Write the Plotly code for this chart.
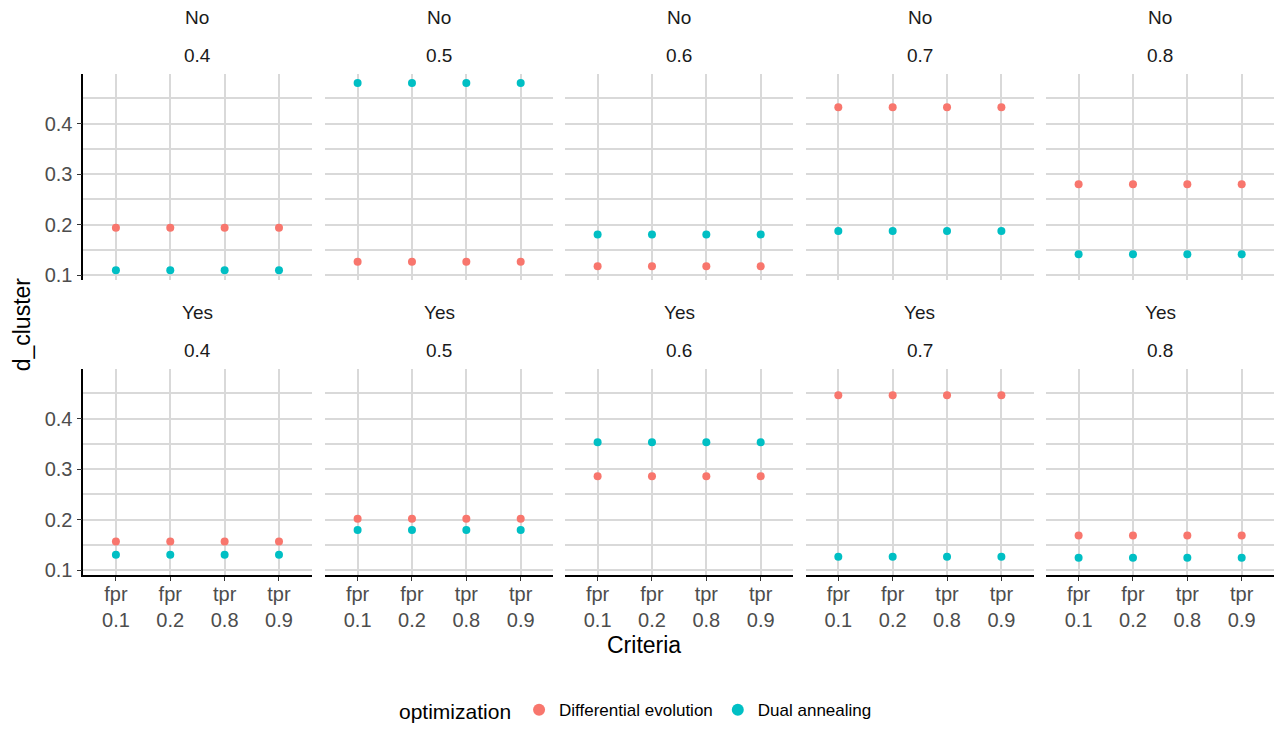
import plotly.graph_objects as go

# Facet labels
groups = ["No", "Yes"]
thresholds = ["0.4", "0.5", "0.6", "0.7", "0.8"]

# Criteria categories on the x axis and their two-line tick labels
criteria = ["fpr 0.1", "fpr 0.2", "tpr 0.8", "tpr 0.9"]
criteria_ticks = ["fpr<br>0.1", "fpr<br>0.2", "tpr<br>0.8", "tpr<br>0.9"]

# d_cluster per threshold panel (rows: 0.4 .. 0.8; columns: criteria)
de_no = [
    [0.194, 0.194, 0.194, 0.194],
    [0.127, 0.127, 0.127, 0.127],
    [0.118, 0.118, 0.118, 0.118],
    [0.432, 0.432, 0.432, 0.432],
    [0.280, 0.280, 0.280, 0.280],
]
da_no = [
    [0.110, 0.110, 0.110, 0.110],
    [0.480, 0.480, 0.480, 0.480],
    [0.181, 0.181, 0.181, 0.181],
    [0.188, 0.188, 0.188, 0.188],
    [0.142, 0.142, 0.142, 0.142],
]
de_yes = [
    [0.157, 0.157, 0.157, 0.157],
    [0.202, 0.202, 0.202, 0.202],
    [0.286, 0.286, 0.286, 0.286],
    [0.446, 0.446, 0.446, 0.446],
    [0.169, 0.169, 0.169, 0.169],
]
da_yes = [
    [0.131, 0.131, 0.131, 0.131],
    [0.180, 0.180, 0.180, 0.180],
    [0.353, 0.353, 0.353, 0.353],
    [0.127, 0.127, 0.127, 0.127],
    [0.125, 0.125, 0.125, 0.125],
]

series = {
    "No": (de_no, da_no),
    "Yes": (de_yes, da_yes),
}

DE_COLOR = "#F8766D"
DA_COLOR = "#00BFC4"
FONT = "Liberation Sans, Arial, sans-serif"

W, H = 1278, 732
col_left = [83.3, 325.0, 565.0, 805.7, 1046.0]
panel_w = 228.3
row_top = [74.3, 371.7]
panel_h = 208.0
strip_y = [(18, 56), (315, 353)]

GRID = "#d9d9d9"

fig = go.Figure()
layout_axes = {}

for r, grp in enumerate(groups):
    de_vals, da_vals = series[grp]
    for c, thr in enumerate(thresholds):
        k = r * 5 + c + 1
        xname = "x" if k == 1 else f"x{k}"
        yname = "y" if k == 1 else f"y{k}"
        xkey = "xaxis" if k == 1 else f"xaxis{k}"
        ykey = "yaxis" if k == 1 else f"yaxis{k}"

        fig.add_trace(go.Scatter(
            x=criteria, y=de_vals[c], mode="markers",
            marker=dict(color=DE_COLOR, size=8),
            name="Differential evolution", legendgroup="de",
            showlegend=(k == 1), xaxis=xname, yaxis=yname,
        ))
        fig.add_trace(go.Scatter(
            x=criteria, y=da_vals[c], mode="markers",
            marker=dict(color=DA_COLOR, size=8),
            name="Dual annealing", legendgroup="da",
            showlegend=(k == 1), xaxis=xname, yaxis=yname,
        ))

        x0 = col_left[c] / W
        x1 = (col_left[c] + panel_w) / W
        y1 = 1 - row_top[r] / H
        y0 = 1 - (row_top[r] + panel_h) / H
        bottom_row = (r == 1)
        left_col = (c == 0)

        layout_axes[xkey] = dict(
            domain=[x0, x1], anchor=yname,
            type="category", categoryarray=criteria, categoryorder="array",
            range=[-0.6, 3.6],
            tickvals=criteria, ticktext=criteria_ticks,
            showticklabels=bottom_row,
            ticks="outside" if bottom_row else "", ticklen=4, tickcolor="#333333",
            ticklabelstandoff=-4,
            showgrid=True, gridcolor=GRID, gridwidth=2,
            showline=bottom_row, linecolor="black", linewidth=1.6,
            zeroline=False,
            tickfont=dict(family=FONT, size=20, color="#4d4d4d"),
        )
        layout_axes[ykey] = dict(
            domain=[y0, y1], anchor=xname,
            range=[0.091, 0.4985],
            tickvals=[0.1, 0.2, 0.3, 0.4], ticktext=["0.1", "0.2", "0.3", "0.4"],
            showticklabels=left_col,
            ticks="outside" if left_col else "", ticklen=5, tickcolor="#333333",
            showgrid=True, gridcolor=GRID, gridwidth=2,
            minor=dict(tickvals=[0.15, 0.25, 0.35, 0.45], showgrid=True,
                       gridcolor=GRID, gridwidth=2, ticks=""),
            showline=left_col, linecolor="black", linewidth=1.6,
            zeroline=False,
            tickfont=dict(family=FONT, size=20, color="#4d4d4d"),
        )

annotations = []
for r, grp in enumerate(groups):
    for c, thr in enumerate(thresholds):
        cx = (col_left[c] + panel_w / 2) / W
        annotations.append(dict(
            text=grp, x=cx, y=1 - strip_y[r][0] / H, xref="paper", yref="paper",
            showarrow=False, xanchor="center", yanchor="middle",
            font=dict(family=FONT, size=19, color="#1a1a1a"),
        ))
        annotations.append(dict(
            text=thr, x=cx, y=1 - strip_y[r][1] / H, xref="paper", yref="paper",
            showarrow=False, xanchor="center", yanchor="middle",
            font=dict(family=FONT, size=19, color="#1a1a1a"),
        ))

# Axis titles
annotations.append(dict(
    text="d_cluster", x=22 / W, y=1 - 327 / H, xref="paper", yref="paper",
    showarrow=False, textangle=-90, xanchor="center", yanchor="middle",
    font=dict(family=FONT, size=23, color="black"),
))
annotations.append(dict(
    text="Criteria", x=644 / W,
    y=1 - 650 / H, xref="paper", yref="paper",
    showarrow=False, xanchor="center", yanchor="middle",
    font=dict(family=FONT, size=23, color="black"),
))

fig.update_layout(
    width=W, height=H,
    margin=dict(l=0, r=0, t=0, b=0),
    paper_bgcolor="white", plot_bgcolor="white",
    font=dict(family=FONT),
    annotations=annotations,
    showlegend=True,
    legend=dict(
        orientation="h", x=637 / W, xanchor="center",
        y=1 - 717 / H, yanchor="middle",
        title=dict(text="optimization", font=dict(family=FONT, size=21, color="black")),
        font=dict(family=FONT, size=17, color="black"),
        itemsizing="constant",
    ),
    **layout_axes,
)

fig.write_html("out.html")
